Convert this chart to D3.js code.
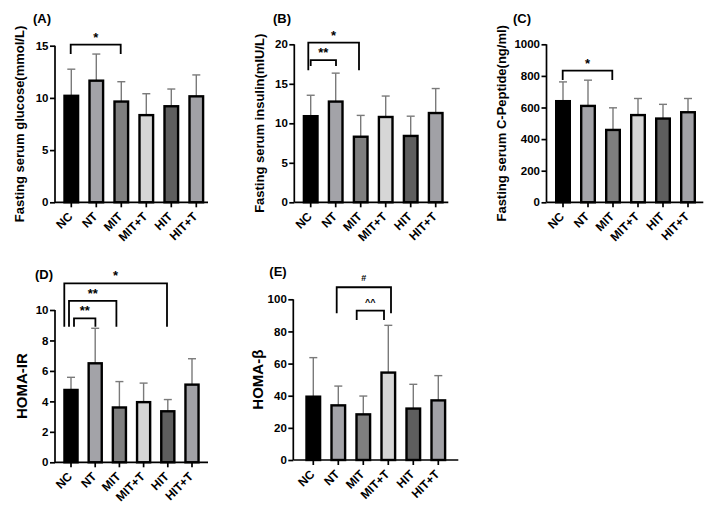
<!DOCTYPE html>
<html><head><meta charset="utf-8">
<script src="https://cdn.jsdelivr.net/npm/d3@7"></script>
<style>
html,body{margin:0;padding:0;background:#fff;}
text{font-family:"Liberation Sans",Arial,sans-serif;font-weight:bold;fill:#000;}
</style></head>
<body>
<svg id="chart" width="712" height="508"></svg>
<script>
// ---------- DATA ----------
const categories = ["NC","NT","MIT","MIT+T","HIT","HIT+T"];

const glucoseMean = [10.2, 11.65, 9.65, 8.35, 9.2, 10.15];
const glucoseSD   = [2.55, 2.55, 1.9, 2.05, 1.65, 2.05];
const glucoseTicks = [0,5,10,15];

const insulinMean = [10.9, 12.75, 8.3, 10.8, 8.4, 11.3];
const insulinSD   = [2.65, 3.6, 2.7, 2.65, 2.5, 3.1];
const insulinTicks = [0,5,10,15,20];

const cpeptideMean = [640, 610, 458, 552, 530, 570];
const cpeptideSD   = [122, 163, 140, 105, 90, 87];
const cpeptideTicks = [0,200,400,600,800,1000];

const homaIRMean = [4.75, 6.5, 3.6, 3.95, 3.35, 5.1];
const homaIRSD   = [0.83, 2.3, 1.7, 1.25, 0.77, 1.7];
const homaIRTicks = [0,2,4,6,8,10];

const homaBMean = [39.4, 34, 28.4, 54.4, 32, 37.1];
const homaBSD   = [24.3, 12, 11.4, 29.4, 15.1, 15.4];
const homaBTicks = [0,20,40,60,80,100];

// significance brackets: [from, to, label, bracket value, drop value]
const glucoseSig  = [["NC","MIT","*",15.1,14.2]];
const insulinSig  = [["NC","MIT","*",20.2,16.7],["NC","NT","**",18.0,17.25]];
const cpeptideSig = [["NC","MIT","*",833,774]];
const homaIRSig   = [["NC","HIT","*",11.75,8.9],["NC","MIT","**",10.6,8.9],["NC","NT","**",9.45,8.9]];
const homaBSig    = [["NT","MIT+T","#",107.5,91.3],["MIT","MIT+T","^^",92.9,87.1]];

const barColors = ["#000000","#a3a3a8","#7f7f7f","#d6d6d6","#5e5e5e","#a1a1a6"];

// ---------- LAYOUT ----------
const panels = [
  {title:"(A)", tx:33, ty:22.5, ylabel:"Fasting serum glucose(mmol/L)", lx:24, lsize:13,
   x0:55, x1:208, c0:71.3, cN:196.3, yB:202.3, yT:45.7, max:15,
   mean:glucoseMean, sd:glucoseSD, ticks:glucoseTicks, sig:glucoseSig,
   nudge:[[-0.6,-0.6]], lblSize:[13]},
  {title:"(B)", tx:273, ty:22.5, ylabel:"Fasting serum insulin(mIU/L)", lx:264, lsize:13,
   x0:294.3, x1:448.3, c0:310.7, cN:435.7, yB:202.3, yT:44.3, max:20,
   mean:insulinMean, sd:insulinSD, ticks:insulinTicks, sig:insulinSig,
   nudge:[[-2.4,-1.7],[0,0.3]], lblSize:[13,13]},
  {title:"(C)", tx:513, ty:22.5, ylabel:"Fasting serum C-Peptide(ng/ml)", lx:506, lsize:13,
   x0:546.5, x1:703.3, c0:563, cN:688, yB:202.3, yT:44.3, max:1000,
   mean:cpeptideMean, sd:cpeptideSD, ticks:cpeptideTicks, sig:cpeptideSig,
   nudge:[[-0.3,-0.7]], lblSize:[13]},
  {title:"(D)", tx:35, ty:279, ylabel:"HOMA-IR", lx:27, lsize:15,
   x0:55, x1:208, c0:71, cN:192, yB:462.3, yT:310, max:10,
   mean:homaIRMean, sd:homaIRSD, ticks:homaIRTicks, sig:homaIRSig,
   nudge:[[-6.7,-0.8],[-2,-3],[3,0.2]], lblSize:[13,13,13]},
  {title:"(E)", tx:269.3, ty:276, ylabel:"HOMA-β", lx:263, lsize:15,
   x0:293.3, x1:458.3, c0:313.3, cN:438.3, yB:460, yT:299.3, max:100,
   mean:homaBMean, sd:homaBSD, ticks:homaBTicks, sig:homaBSig,
   nudge:[[-1.6,2.7],[-6.6,-4.3]], lblSize:[9,9]}
];

const svg = d3.select("#chart");

panels.forEach(p => {
  const g = svg.append("g");
  const step = (p.cN - p.c0) / (categories.length - 1);
  const x = d3.scaleBand().domain(categories)
      .range([p.c0 - step/2, p.cN + step/2]).paddingInner(0.36).paddingOuter(0.18);
  const y = d3.scaleLinear().domain([0, p.max]).range([p.yB, p.yT]);
  const cx = c => x(c) + x.bandwidth()/2;

  // error bars (upper)
  categories.forEach((c,i) => {
    const top = p.mean[i] + p.sd[i];
    g.append("line").attr("x1",cx(c)).attr("x2",cx(c))
      .attr("y1",y(p.mean[i])).attr("y2",y(top))
      .attr("stroke","#7a7a7a").attr("stroke-width",1.4);
    g.append("line").attr("x1",cx(c)-4).attr("x2",cx(c)+4)
      .attr("y1",y(top)).attr("y2",y(top))
      .attr("stroke","#7a7a7a").attr("stroke-width",1.4);
  });

  // bars
  g.selectAll("rect.bar").data(categories).join("rect")
    .attr("class","bar")
    .attr("x", c => x(c)+1.2)
    .attr("width", x.bandwidth()-2.4)
    .attr("y", (c,i) => y(p.mean[i]))
    .attr("height", (c,i) => y(0) - y(p.mean[i]))
    .attr("fill", (c,i) => barColors[i])
    .attr("stroke","#000").attr("stroke-width",2.4);

  // y axis
  const yAxis = d3.axisLeft(y).tickValues(p.ticks).tickSize(5).tickPadding(1.5).tickFormat(d3.format("d"));
  const ya = g.append("g").attr("transform",`translate(${p.x0},0)`).call(yAxis);
  ya.select(".domain").attr("d",`M0,${p.yB}V${p.yT}`).attr("stroke-width",1.7);
  ya.selectAll(".tick line").attr("stroke-width",1.7);
  ya.selectAll(".tick text").attr("fill","#000").style("font-size","11.5px").style("font-family","Liberation Sans, Arial").style("font-weight","bold");

  // x axis
  const xa = g.append("g").attr("transform",`translate(0,${p.yB})`).call(d3.axisBottom(x).tickSize(5).tickSizeOuter(0));
  xa.select(".domain").attr("d",`M${p.x0},0H${p.x1}`).attr("stroke-width",1.7);
  xa.selectAll(".tick line").attr("stroke-width",1.7);
  xa.selectAll(".tick text").attr("fill","#000")
    .style("font-size","12px").style("font-family","Liberation Sans, Arial").style("font-weight","bold")
    .attr("text-anchor","end").attr("dy","0").attr("y",0)
    .attr("transform","translate(2,15) rotate(-45)");

  // title
  g.append("text").attr("x",p.tx).attr("y",p.ty).style("font-size","13px").text(p.title);
  // y label
  const ymid = (p.yB + p.yT)/2;
  g.append("text").attr("transform",`translate(${p.lx},${ymid}) rotate(-90)`)
    .attr("text-anchor","middle").style("font-size",p.lsize+"px").text(p.ylabel);

  // significance brackets
  p.sig.forEach((s,k) => {
    const xl = cx(s[0]) + p.nudge[k][0], xr = cx(s[1]) + p.nudge[k][1];
    const yb = y(s[3]), yd = y(s[4]);
    g.append("path").attr("d",`M${xl},${yd}V${yb}H${xr}V${yd}`)
      .attr("fill","none").attr("stroke","#000").attr("stroke-width",1.8);
    g.append("text").attr("x",(xl+xr)/2).attr("y", yb - (p.lblSize[k] > 10 ? 3 : 6))
      .attr("text-anchor","middle").style("font-size",p.lblSize[k]+"px").text(s[2]);
  });
});
</script>
</body></html>
